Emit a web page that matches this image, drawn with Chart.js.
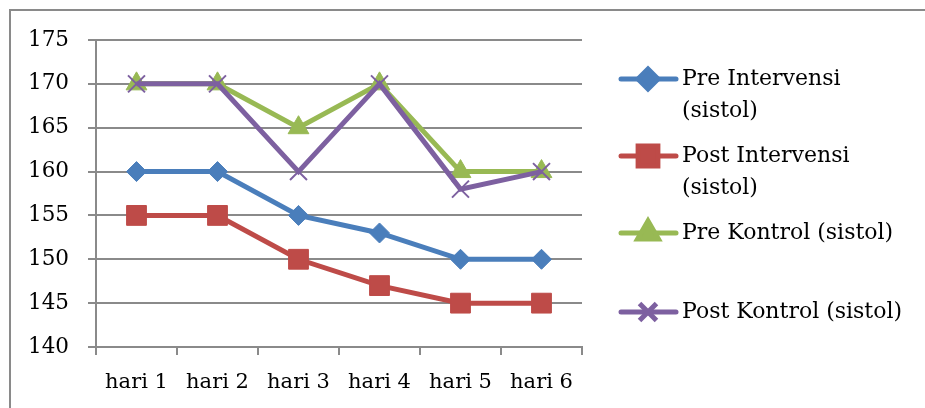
<!DOCTYPE html>
<html>
<head>
<meta charset="utf-8">
<script src="https://cdn.jsdelivr.net/npm/chart.js@4/dist/chart.umd.min.js"></script>
<style>
  html, body { margin: 0; padding: 0; background: #ffffff; }
  #wrap { position: relative; width: 925px; height: 408px; }
</style>
</head>
<body>
<div id="wrap"><canvas id="c"></canvas></div>
<script>
// ---- data ----
const categories = ['hari 1', 'hari 2', 'hari 3', 'hari 4', 'hari 5', 'hari 6'];
const preIntervensi = [160, 160, 155, 153, 150, 150];
const postIntervensi = [155, 155, 150, 147, 145, 145];
const preKontrol = [170, 170, 165, 170, 160, 160];
const postKontrol = [170, 170, 160, 170, 158, 160];
const seriesNames = ['Pre Intervensi (sistol)', 'Post Intervensi (sistol)', 'Pre Kontrol (sistol)', 'Post Kontrol (sistol)'];
const legendLines = [['Pre Intervensi', '(sistol)'], ['Post Intervensi', '(sistol)'], ['Pre Kontrol (sistol)'], ['Post Kontrol (sistol)']];
const yTicks = [140, 145, 150, 155, 160, 165, 170, 175];

const FONT = '"DejaVu Serif", "Liberation Serif", serif';
const GRID = '#8a8a8a';

const styles = [
  { color: '#4a7ebb', point: 'rectRot', radius: 10, pbw: 1 },
  { color: '#be4b48', point: 'rect', radius: 14, pbw: 1 },
  { color: '#98b954', point: 'triangle', radius: 12, pbw: 1 },
  { color: '#7d60a0', point: 'crossRot', radius: 12, pbw: 2 }
];
const seriesData = [preIntervensi, postIntervensi, preKontrol, postKontrol];

const datasets = seriesData.map((d, i) => ({
  label: seriesNames[i],
  data: d,
  borderColor: styles[i].color,
  backgroundColor: styles[i].color,
  borderWidth: 5,
  tension: 0,
  pointStyle: styles[i].point,
  pointRadius: styles[i].radius,
  pointHoverRadius: styles[i].radius,
  pointBackgroundColor: styles[i].color,
  pointBorderColor: styles[i].color,
  pointBorderWidth: styles[i].pbw,
  order: 4 - i
}));

function drawMarker(ctx, style, x, y) {
  if (Chart.helpers && Chart.helpers.drawPoint) {
    Chart.helpers.drawPoint(ctx, { pointStyle: style.point, radius: style.radius, borderWidth: style.pbw, rotation: 0 }, x, y);
  }
}

const decor = {
  id: 'decor',
  afterDraw(chart) {
    const ctx = chart.ctx;
    ctx.save();
    // outer frame (left and top edges visible)
    ctx.strokeStyle = GRID;
    ctx.lineWidth = 2;
    ctx.beginPath();
    ctx.moveTo(925, 10);
    ctx.lineTo(10, 10);
    ctx.lineTo(10, 408);
    ctx.stroke();

    // legend
    const itemY = [79, 156, 233, 312];
    const lineH = 32;
    ctx.font = '22px ' + FONT;
    ctx.textBaseline = 'middle';
    ctx.textAlign = 'left';
    chart.data.datasets.forEach((ds, i) => {
      const y = itemY[i];
      ctx.strokeStyle = styles[i].color;
      ctx.lineWidth = 5;
      ctx.lineCap = 'round';
      ctx.beginPath();
      ctx.moveTo(621, y);
      ctx.lineTo(676, y);
      ctx.stroke();
      ctx.fillStyle = styles[i].color;
      ctx.strokeStyle = styles[i].color;
      ctx.lineCap = 'butt';
      drawMarker(ctx, styles[i], 648, y);
      ctx.fillStyle = '#000000';
      legendLines[i].forEach((t, k) => ctx.fillText(t, 682, y + k * lineH));
    });
    ctx.restore();
  }
};

new Chart(document.getElementById('c'), {
  type: 'line',
  data: { labels: categories, datasets: datasets },
  options: {
    responsive: true,
    maintainAspectRatio: false,
    animation: false,
    events: [],
    layout: { padding: { top: 40, right: 343, left: 0, bottom: 0 } },
    plugins: { legend: { display: false }, tooltip: { enabled: false } },
    scales: {
      x: {
        offset: true,
        grid: { offset: true, drawOnChartArea: false, drawTicks: true, tickLength: 8, color: GRID, lineWidth: 2 },
        border: { display: true, color: GRID, width: 2 },
        ticks: { color: '#000000', font: { family: FONT, size: 21 }, padding: 15, maxRotation: 0, autoSkip: false },
        afterFit(s) { s.height = 61; }
      },
      y: {
        min: 140,
        max: 175,
        afterBuildTicks(s) { s.ticks = yTicks.map(v => ({ value: v })); },
        grid: { color: GRID, lineWidth: 2, tickLength: 8, drawTicks: true },
        border: { display: true, color: GRID, width: 2 },
        ticks: { color: '#000000', font: { family: FONT, size: 21.5 }, padding: 19 },
        afterFit(s) { s.width = 96; }
      }
    }
  },
  plugins: [decor]
});
</script>
</body>
</html>
